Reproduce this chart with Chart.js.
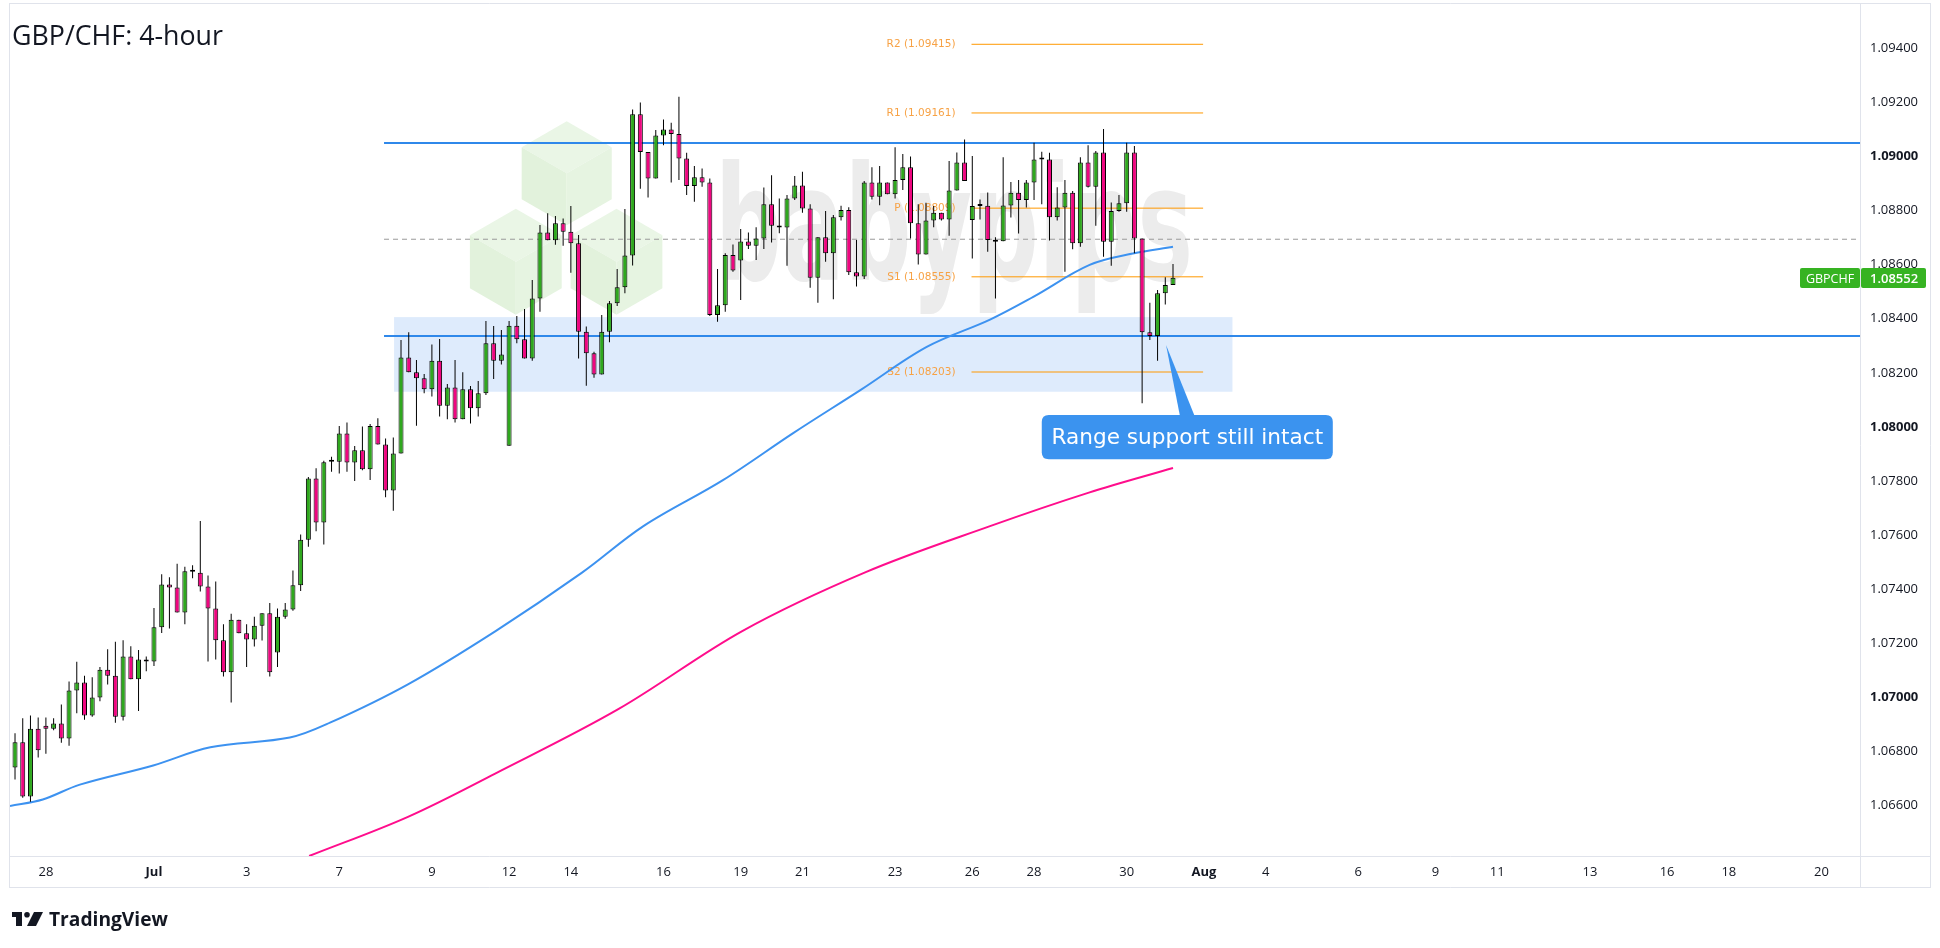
<!DOCTYPE html>
<html>
<head>
<meta charset="utf-8">
<title>GBP/CHF: 4-hour</title>
<script src="https://cdn.jsdelivr.net/npm/chart.js@4.4.1/dist/chart.umd.min.js"></script>
<style>
html,body{margin:0;padding:0;background:#ffffff;overflow:hidden;}
#wrap{position:relative;width:1940px;height:948px;}
canvas{display:block;}
</style>
</head>
<body>
<div id="wrap"><canvas id="chart" width="1940" height="948"></canvas></div>
<script>
// ---------------- DATA ----------------
const candleOpen = [
1.06740,1.06834,1.06633,1.06884,1.06895,1.06884,1.06903,1.06848,1.07025,1.07055,
1.06933,1.06999,1.07102,1.07080,1.06928,1.07151,1.07067,1.07140,1.07132,1.07259,
1.07417,1.07406,1.07314,1.07466,1.07461,1.07410,1.07328,1.07211,1.07093,1.07287,
1.07237,1.07214,1.07265,1.07311,1.07166,1.07298,1.07325,1.07414,1.07583,1.07809,
1.07646,1.07874,1.07871,1.07976,1.07868,1.07914,1.07843,1.08003,1.07935,1.07765,
1.07902,1.08257,1.08202,1.08180,1.08139,1.08245,1.08078,1.08146,1.08028,1.08139,
1.08069,1.08124,1.08309,1.08245,1.07930,1.08374,1.08324,1.08253,1.08475,1.08719,
1.08690,1.08753,1.08722,1.08679,1.08352,1.08272,1.08194,1.08352,1.08457,1.08516,
1.08634,1.09156,1.09017,1.08919,1.09078,1.09100,1.09083,1.08993,1.08891,1.08923,
1.08904,1.08414,1.08450,1.08636,1.08615,1.08686,1.08670,1.08697,1.08823,1.08744,
1.08737,1.08845,1.08893,1.08808,1.08552,1.08701,1.08642,1.08775,1.08802,1.08572,
1.08556,1.08904,1.08851,1.08904,1.08860,1.08913,1.08960,1.08753,1.08638,1.08763,
1.08792,1.08767,1.08874,1.08978,1.08765,1.08817,1.08818,1.08689,1.08687,1.08819,
1.08866,1.08839,1.08904,1.08989,1.08989,1.08775,1.08811,1.08866,1.08679,1.08978,
1.08888,1.09015,1.08685,1.08798,1.08827,1.09015,1.08697,1.08350,1.08336,1.08494,
1.08525];
const candleHigh = [
1.06867,1.06922,1.06933,1.06925,1.06925,1.06922,1.06973,1.07058,1.07131,1.07080,
1.07074,1.07112,1.07178,1.07205,1.07211,1.07189,1.07175,1.07151,1.07330,1.07455,
1.07444,1.07494,1.07483,1.07488,1.07652,1.07450,1.07428,1.07270,1.07309,1.07287,
1.07270,1.07298,1.07311,1.07349,1.07328,1.07349,1.07469,1.07602,1.07815,1.07847,
1.07875,1.07890,1.08003,1.08016,1.07929,1.08001,1.08011,1.08032,1.07957,1.07961,
1.08321,1.08350,1.08247,1.08196,1.08305,1.08325,1.08159,1.08247,1.08202,1.08151,
1.08170,1.08392,1.08373,1.08358,1.08392,1.08410,1.08436,1.08543,1.08747,1.08790,
1.08780,1.08771,1.08817,1.08710,1.08371,1.08278,1.08414,1.08466,1.08584,1.08806,
1.09174,1.09200,1.09017,1.09098,1.09137,1.09125,1.09221,1.09014,1.08965,1.08956,
1.08919,1.08584,1.08642,1.08675,1.08732,1.08719,1.08738,1.08885,1.08931,1.08845,
1.08858,1.08928,1.08944,1.08823,1.08701,1.08798,1.08784,1.08818,1.08812,1.08691,
1.08909,1.08960,1.08965,1.08904,1.09034,1.09009,1.09000,1.08823,1.08829,1.08817,
1.08792,1.08983,1.09015,1.09063,1.09002,1.08841,1.08867,1.08701,1.08997,1.08906,
1.08913,1.08913,1.09051,1.09018,1.09014,1.08886,1.08913,1.08872,1.08997,1.09042,
1.09020,1.09102,1.08830,1.08858,1.09051,1.09039,1.08697,1.08459,1.08506,1.08553,
1.08602];
const candleLow = [
1.06696,1.06628,1.06614,1.06777,1.06791,1.06878,1.06832,1.06821,1.06941,1.06917,
1.06928,1.06985,1.07047,1.06906,1.06914,1.07067,1.06949,1.07096,1.07116,1.07238,
1.07254,1.07314,1.07270,1.07440,1.07391,1.07132,1.07140,1.07077,1.06981,1.07237,
1.07112,1.07188,1.07210,1.07077,1.07112,1.07290,1.07320,1.07393,1.07557,1.07614,
1.07565,1.07834,1.07828,1.07834,1.07800,1.07840,1.07804,1.07935,1.07740,1.07690,
1.07902,1.08202,1.08004,1.08124,1.08112,1.08038,1.08028,1.08016,1.08028,1.08013,
1.08038,1.08118,1.08177,1.08231,1.07930,1.08309,1.08253,1.08245,1.08426,1.08690,
1.08674,1.08670,1.08570,1.08253,1.08152,1.08182,1.08194,1.08313,1.08447,1.08494,
1.08597,1.08881,1.08848,1.08919,1.09042,1.08904,1.08913,1.08858,1.08833,1.08888,
1.08410,1.08389,1.08426,1.08574,1.08469,1.08658,1.08617,1.08658,1.08682,1.08716,
1.08596,1.08839,1.08792,1.08515,1.08459,1.08611,1.08472,1.08763,1.08562,1.08519,
1.08547,1.08841,1.08820,1.08860,1.08845,1.08876,1.08697,1.08601,1.08638,1.08738,
1.08763,1.08707,1.08874,1.08909,1.08623,1.08767,1.08648,1.08475,1.08687,1.08774,
1.08715,1.08811,1.08839,1.08823,1.08689,1.08763,1.08574,1.08657,1.08666,1.08885,
1.08744,1.08629,1.08596,1.08796,1.08796,1.08642,1.08087,1.08321,1.08245,1.08453,
1.08525];
const candleClose = [
1.06834,1.06633,1.06884,1.06804,1.06884,1.06903,1.06848,1.07025,1.07055,1.06933,
1.06999,1.07102,1.07080,1.06928,1.07151,1.07067,1.07140,1.07132,1.07259,1.07417,
1.07406,1.07314,1.07466,1.07464,1.07410,1.07328,1.07211,1.07093,1.07287,1.07237,
1.07214,1.07265,1.07311,1.07093,1.07298,1.07325,1.07414,1.07583,1.07809,1.07646,
1.07869,1.07871,1.07976,1.07868,1.07914,1.07843,1.08003,1.07935,1.07765,1.07902,
1.08257,1.08202,1.08180,1.08139,1.08245,1.08078,1.08146,1.08028,1.08139,1.08069,
1.08124,1.08309,1.08245,1.08268,1.08374,1.08324,1.08253,1.08475,1.08719,1.08690,
1.08753,1.08722,1.08679,1.08352,1.08272,1.08194,1.08352,1.08457,1.08516,1.08634,
1.09156,1.09017,1.08919,1.09078,1.09100,1.09083,1.08993,1.08891,1.08923,1.08904,
1.08414,1.08450,1.08636,1.08578,1.08686,1.08670,1.08697,1.08823,1.08744,1.08737,
1.08845,1.08893,1.08808,1.08552,1.08701,1.08642,1.08775,1.08802,1.08572,1.08556,
1.08904,1.08851,1.08904,1.08860,1.08913,1.08960,1.08753,1.08638,1.08763,1.08792,
1.08767,1.08874,1.08978,1.08909,1.08817,1.08817,1.08691,1.08685,1.08819,1.08866,
1.08839,1.08904,1.08989,1.08989,1.08775,1.08811,1.08866,1.08679,1.08978,1.08888,
1.09015,1.08685,1.08798,1.08827,1.09015,1.08697,1.08350,1.08336,1.08494,1.08525,
1.08552];

// moving averages, read at a few bar positions
const maBlueX = [-0.65, 3.6, 8.4, 17.9, 25.3, 35.6, 40.8, 50.9, 62.2, 73.4, 81.4, 91.7, 100.8, 109.5, 118.1, 126.3, 131.9, 139.2, 144.8, 150];
const maBlueY = [1.06598, 1.06622, 1.06677, 1.06748, 1.06815, 1.06851, 1.06906, 1.07048, 1.07244, 1.07460, 1.07633, 1.07803, 1.07977, 1.08136, 1.08296, 1.08397, 1.08481, 1.08599, 1.08641, 1.08666];
const maPinkX = [38.1, 50.9, 62.2, 78.2, 94.2, 110.2, 126.3, 139.1, 150];
const maPinkY = [1.06413, 1.06558, 1.06718, 1.06957, 1.07245, 1.07463, 1.07633, 1.07757, 1.07848];

// axis tick labels
const xTickIndex  = [4, 18, 30, 42, 54, 64, 72, 84, 94, 102, 114, 124, 132, 144, 154, 162, 174, 184, 192, 204, 214, 222, 234];
const xTickLabels = ['28','Jul','3','7','9','12','14','16','19','21','23','26','28','30','Aug','4','6','9','11','13','16','18','20'];
const yTickValues = [1.066, 1.068, 1.070, 1.072, 1.074, 1.076, 1.078, 1.080, 1.082, 1.084, 1.086, 1.088, 1.090, 1.092, 1.094];
const yBoldValues = [1.070, 1.080, 1.090];

// levels / drawings
const rangeTop = 1.09050, rangeBottom = 1.08336, midLevel = 1.08694;
const zoneTop = 1.08406, zoneBottom = 1.08130;
const pivotNames  = ['R2', 'R1', 'P', 'S1', 'S2'];
const pivotValues = [1.09415, 1.09161, 1.08809, 1.08555, 1.08203];
const lastPrice = 1.08552;
const symbolName = 'GBPCHF';
const titleText = 'GBP/CHF: 4-hour';
const calloutText = 'Range support still intact';

// ---------------- LAYOUT / STYLE ----------------
const xMin = -0.65, xMax = 238.99;
const yMin = 1.06413, yMax = 1.09564;
const rangeStart = 47.8, zoneStart = 49.1, zoneEnd = 157.7, pivotStart = 123.9, pivotEnd = 153.9;
const callout = {left: 133.0, right: 170.7, top: 1.08044, bottom: 1.07880, tipX: 149.1, tipY: 1.08303, baseX0: 150.9, baseX1: 152.8};

const UP = '#2fa81e', DOWN = '#ef0680', LINE_BLUE = '#2f88ea', MA_BLUE = '#3d92f0', MA_PINK = '#ff0d8c';
const PIVOT = '#ff9800', PIVOT_TEXT = '#f7a245', ZONE = '#deebfc', TAG = '#36b322', FRAME = '#e0e3eb', TEXT = '#131722';

const pts = (xs, ys) => xs.map((x, i) => ({x, y: ys[i]}));
const hLine = (v, a, b) => [{x: a, y: v}, {x: b, y: v}];

const datasets = [
  {type: 'bar', label: 'body', data: candleOpen.map((o, i) => ({x: i, y: [o, candleClose[i]]})),
   backgroundColor: candleOpen.map((o, i) => candleClose[i] >= o ? UP : DOWN),
   borderColor: '#000', borderWidth: 1, borderSkipped: false, barThickness: 5, minBarLength: 2,
   grouped: false, inflateAmount: 0, order: 0},
  {type: 'bar', label: 'wick', data: candleOpen.map((o, i) => ({x: i, y: [candleLow[i], candleHigh[i]]})),
   backgroundColor: '#000', borderWidth: 0, barThickness: 1, grouped: false, inflateAmount: 0, order: 1},
  {type: 'line', label: 'MA blue', data: pts(maBlueX, maBlueY), borderColor: MA_BLUE, borderWidth: 2,
   pointRadius: 0, tension: 0.35, order: 2},
  {type: 'line', label: 'MA pink', data: pts(maPinkX, maPinkY), borderColor: MA_PINK, borderWidth: 2,
   pointRadius: 0, tension: 0.35, order: 2},
  {type: 'line', label: 'range top', data: hLine(rangeTop, rangeStart, xMax), borderColor: LINE_BLUE, borderWidth: 2, pointRadius: 0, order: 3},
  {type: 'line', label: 'range bottom', data: hLine(rangeBottom, rangeStart, xMax), borderColor: LINE_BLUE, borderWidth: 2, pointRadius: 0, order: 3},
  {type: 'line', label: 'mid', data: hLine(midLevel, rangeStart, xMax), borderColor: '#9a9a9a', borderWidth: 1, borderDash: [5, 4], pointRadius: 0, order: 3}
];
pivotValues.forEach((v, i) => datasets.push({type: 'line', label: pivotNames[i], data: hLine(v, pivotStart, pivotEnd),
  borderColor: PIVOT, borderWidth: 1, pointRadius: 0, order: 3}));

function xLabel(v) { const k = xTickIndex.indexOf(v); return k >= 0 ? xTickLabels[k] : ''; }

function cube(ctx, cx, cy, r) {
  const w = r * 0.866;
  const P = [[cx, cy - r], [cx + w, cy - r / 2], [cx + w, cy + r / 2], [cx, cy + r], [cx - w, cy + r / 2], [cx - w, cy - r / 2]];
  const C = [cx, cy];
  const face = (p, col) => { ctx.beginPath(); ctx.moveTo(p[0][0], p[0][1]); for (let k = 1; k < p.length; k++) ctx.lineTo(p[k][0], p[k][1]); ctx.closePath(); ctx.fillStyle = col; ctx.fill(); };
  face([P[0], P[1], C, P[5]], '#eaf6e6');
  face([P[5], C, P[3], P[4]], '#e2f2dc');
  face([C, P[1], P[2], P[3]], '#e6f4e1');
}

function rrect(ctx, x, y, w, h, r) {
  ctx.beginPath(); ctx.moveTo(x + r, y); ctx.lineTo(x + w - r, y); ctx.quadraticCurveTo(x + w, y, x + w, y + r);
  ctx.lineTo(x + w, y + h - r); ctx.quadraticCurveTo(x + w, y + h, x + w - r, y + h); ctx.lineTo(x + r, y + h);
  ctx.quadraticCurveTo(x, y + h, x, y + h - r); ctx.lineTo(x, y + r); ctx.quadraticCurveTo(x, y, x + r, y); ctx.closePath();
}

const decor = {
  id: 'decor',
  beforeDraw(chart) {
    const ctx = chart.ctx; ctx.save(); ctx.fillStyle = '#fff'; ctx.fillRect(0, 0, chart.width, chart.height); ctx.restore();
  },
  beforeDatasetsDraw(chart) {
    const {ctx, chartArea: a, scales: {x, y}} = chart;
    ctx.save();
    ctx.beginPath(); ctx.rect(a.left, a.top, a.right - a.left, a.bottom - a.top); ctx.clip();
    // watermark
    cube(ctx, 566.7, 173.3, 52); cube(ctx, 515.8, 261.7, 53); cube(ctx, 616.5, 261.7, 53);
    ctx.font = 'bold 158px "DejaVu Sans"'; ctx.fillStyle = '#ececec'; ctx.textBaseline = 'alphabetic';
    const ww = ctx.measureText('babypips').width;
    ctx.save(); ctx.translate(715, 280); ctx.scale(478 / ww, 1); ctx.fillText('babypips', 0, 0); ctx.restore();
    // support zone
    const zx0 = x.getPixelForValue(zoneStart), zx1 = x.getPixelForValue(zoneEnd);
    const zy0 = y.getPixelForValue(zoneTop), zy1 = y.getPixelForValue(zoneBottom);
    ctx.fillStyle = ZONE; ctx.fillRect(zx0, zy0, zx1 - zx0, zy1 - zy0);
    // pivot labels
    ctx.font = '10.5px "DejaVu Sans"'; ctx.fillStyle = PIVOT_TEXT; ctx.textAlign = 'right'; ctx.textBaseline = 'middle';
    const lx = x.getPixelForValue(pivotStart) - 16;
    pivotValues.forEach((v, i) => ctx.fillText(pivotNames[i] + ' (' + v.toFixed(5) + ')', lx, y.getPixelForValue(v)));
    ctx.restore();
  },
  afterDatasetsDraw(chart) {
    const {ctx, scales: {x, y}} = chart;
    ctx.save();
    const bl = x.getPixelForValue(callout.left), br = x.getPixelForValue(callout.right);
    const bt = y.getPixelForValue(callout.top), bb = y.getPixelForValue(callout.bottom);
    ctx.fillStyle = '#3b93ef';
    ctx.beginPath();
    ctx.moveTo(x.getPixelForValue(callout.baseX0), bt + 1);
    ctx.lineTo(x.getPixelForValue(callout.tipX), y.getPixelForValue(callout.tipY));
    ctx.lineTo(x.getPixelForValue(callout.baseX1), bt + 1);
    ctx.closePath(); ctx.fill();
    rrect(ctx, bl, bt, br - bl, bb - bt, 7); ctx.fill();
    ctx.fillStyle = '#ffffff'; ctx.textAlign = 'center'; ctx.textBaseline = 'middle';
    ctx.font = '20px "DejaVu Sans"';
    const tw = ctx.measureText(calloutText).width;
    ctx.font = (20 * 272 / tw).toFixed(2) + 'px "DejaVu Sans"';
    ctx.fillText(calloutText, (bl + br) / 2, (bt + bb) / 2 + 1);
    ctx.restore();
  },
  afterDraw(chart) {
    const {ctx, chartArea: a, scales: {y}} = chart;
    ctx.save();
    // frame
    ctx.strokeStyle = FRAME; ctx.lineWidth = 1;
    const R = a.right + 70, B = a.bottom + 31;
    ctx.beginPath();
    ctx.moveTo(a.left - 0.5, 3.5); ctx.lineTo(R + 0.5, 3.5);
    ctx.moveTo(a.left - 0.5, 3); ctx.lineTo(a.left - 0.5, B + 1);
    ctx.moveTo(R + 0.5, 3); ctx.lineTo(R + 0.5, B + 1);
    ctx.moveTo(a.left - 0.5, B + 0.5); ctx.lineTo(R + 0.5, B + 0.5);
    ctx.moveTo(a.left - 0.5, a.bottom + 0.5); ctx.lineTo(R + 0.5, a.bottom + 0.5);
    ctx.moveTo(a.right + 0.5, 3); ctx.lineTo(a.right + 0.5, B + 1);
    ctx.stroke();
    // title
    ctx.fillStyle = TEXT; ctx.textAlign = 'left'; ctx.textBaseline = 'alphabetic';
    ctx.font = '28px "Open Sans"';
    const tw = ctx.measureText(titleText).width;
    ctx.font = (28 * 211 / tw).toFixed(2) + 'px "Open Sans"';
    ctx.fillText(titleText, 12, 45);
    // last price tag
    const py = Math.round(y.getPixelForValue(lastPrice));
    ctx.fillStyle = TAG;
    rrect(ctx, a.right - 60, py - 10, 60, 20, 2); ctx.fill();
    rrect(ctx, a.right + 1, py - 10, 65, 20, 2); ctx.fill();
    ctx.fillStyle = '#ffffff'; ctx.textBaseline = 'middle'; ctx.textAlign = 'center';
    ctx.font = '12.5px "Open Sans"'; ctx.fillText(symbolName, a.right - 30, py + 1);
    ctx.textAlign = 'left'; ctx.font = '600 13px "Open Sans"'; ctx.fillText(lastPrice.toFixed(5), a.right + 10, py + 1);
    // TradingView mark
    ctx.fillStyle = TEXT;
    ctx.fillRect(12, 912, 10, 5); ctx.fillRect(16, 912, 6, 14);
    ctx.beginPath(); ctx.arc(27, 914.8, 2.8, 0, Math.PI * 2); ctx.fill();
    ctx.beginPath(); ctx.moveTo(34, 912); ctx.lineTo(43, 912); ctx.lineTo(36, 926); ctx.lineTo(27, 926); ctx.closePath(); ctx.fill();
    ctx.textAlign = 'left'; ctx.textBaseline = 'alphabetic';
    ctx.font = 'bold 20px "Open Sans"';
    const lw = ctx.measureText('TradingView').width;
    ctx.font = 'bold ' + (20 * 119 / lw).toFixed(2) + 'px "Open Sans"';
    ctx.fillText('TradingView', 49, 926);
    ctx.restore();
  }
};

new Chart(document.getElementById('chart'), {
  type: 'bar',
  data: {datasets},
  options: {
    responsive: false, animation: false, devicePixelRatio: 1, events: [],
    layout: {padding: {left: 10, top: 4, right: 10, bottom: 61}},
    plugins: {legend: {display: false}, tooltip: {enabled: false}},
    scales: {
      x: {
        type: 'linear', position: 'bottom', min: xMin, max: xMax, offset: false,
        grid: {display: false, drawTicks: false, offset: false}, border: {display: false},
        afterBuildTicks: s => { s.ticks = xTickIndex.map(v => ({value: v})); },
        afterFit: s => { s.height = 31; s.paddingLeft = 0; s.paddingRight = 0; },
        ticks: {
          autoSkip: false, maxRotation: 0, minRotation: 0, padding: 8, color: TEXT,
          font: c => ({family: 'Open Sans', size: 13, weight: (c.tick && /[A-Za-z]/.test(xLabel(c.tick.value))) ? 'bold' : 'normal'}),
          callback: v => xLabel(v)
        }
      },
      y: {
        type: 'linear', position: 'right', min: yMin, max: yMax, beginAtZero: false,
        grid: {display: false, drawTicks: false}, border: {display: false},
        afterBuildTicks: s => { s.ticks = yTickValues.map(v => ({value: v})); },
        afterFit: s => { s.width = 70; s.paddingTop = 0; s.paddingBottom = 0; },
        ticks: {
          padding: 10, color: TEXT,
          font: c => ({family: 'Open Sans', size: 13, weight: (c.tick && yBoldValues.some(b => Math.abs(b - c.tick.value) < 1e-9)) ? 'bold' : 'normal'}),
          callback: v => Number(v).toFixed(5)
        }
      }
    }
  },
  plugins: [decor]
});
</script>
</body>
</html>
